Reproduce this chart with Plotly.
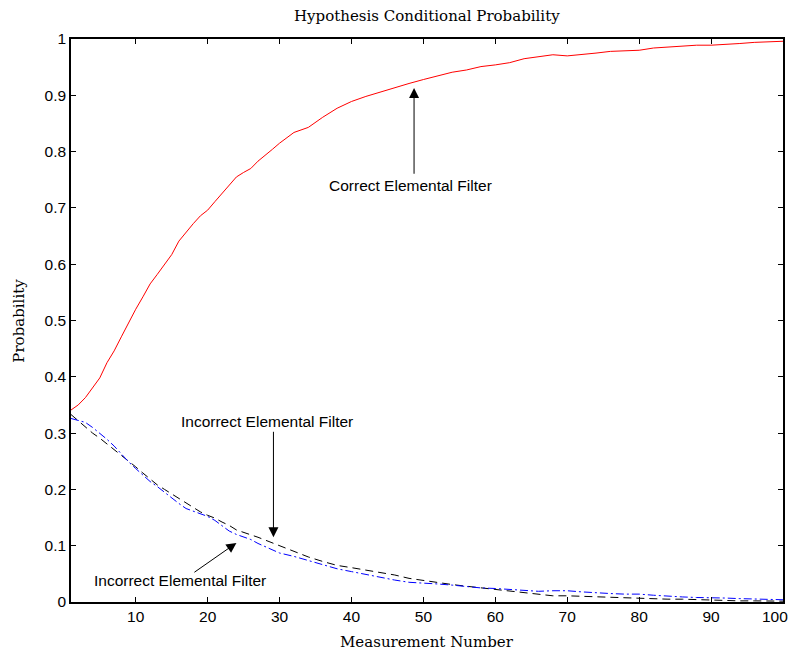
import plotly.graph_objects as go

measurement = [1,2,3,4,5,6,7,8,9,10,11,12,13,14,15,16,17,18,19,20,21,22,23,24,25,26,27,28,29,30,
               32,34,36,38,40,42,44,46,48,50,52,54,56,58,60,62,64,66,68,70,72,74,76,78,80,82,84,86,88,90,
               92,94,96,98,100]

correct_prob = [0.341,0.350,0.363,0.380,0.398,0.425,0.446,0.471,0.497,0.520,0.542,0.565,0.582,0.599,0.617,
                0.641,0.657,0.672,0.686,0.696,0.711,0.726,0.741,0.755,0.763,0.770,0.783,0.793,0.804,0.815,
                0.834,0.843,0.861,0.877,0.889,0.898,0.906,0.914,0.921,0.928,0.935,0.941,0.945,0.951,0.954,
                0.958,0.965,0.969,0.972,0.970,0.972,0.975,0.978,0.979,0.980,0.984,0.986,0.988,0.989,0.989,
                0.990,0.992,0.994,0.995,0.996]

incorrect_a = [0.333,0.322,0.310,0.300,0.291,0.281,0.271,0.261,0.250,0.240,0.229,0.219,0.208,0.200,0.192,
               0.184,0.176,0.168,0.160,0.154,0.149,0.142,0.136,0.128,0.124,0.120,0.115,0.110,0.105,0.100,
               0.090,0.080,0.072,0.065,0.061,0.057,0.053,0.048,0.042,0.038,0.034,0.031,0.028,0.025,0.023,
               0.020,0.017,0.014,0.011,0.011,0.010,0.009,0.008,0.007,0.007,0.006,0.005,0.005,0.004,0.003,
               0.002,0.002,0.002,0.002,0.0015]

incorrect_b = [0.326,0.323,0.319,0.310,0.300,0.289,0.277,0.263,0.249,0.237,0.225,0.214,0.205,0.195,0.184,
               0.175,0.166,0.161,0.156,0.152,0.145,0.136,0.126,0.120,0.116,0.111,0.104,0.098,0.092,0.087,
               0.081,0.074,0.066,0.059,0.054,0.049,0.043,0.039,0.035,0.034,0.032,0.030,0.027,0.025,0.024,
               0.022,0.020,0.019,0.020,0.020,0.018,0.016,0.015,0.014,0.014,0.012,0.010,0.009,0.008,0.008,
               0.007,0.006,0.005,0.004,0.004]

x_ticks = [10,20,30,40,50,60,70,80,90,100]
y_ticks = [0,0.1,0.2,0.3,0.4,0.5,0.6,0.7,0.8,0.9,1]
y_tick_labels = ["0","0.1","0.2","0.3","0.4","0.5","0.6","0.7","0.8","0.9","1"]

label_correct = "Correct Elemental Filter"
label_incorrect = "Incorrect Elemental Filter"

fig = go.Figure()
fig.add_trace(go.Scatter(x=measurement, y=correct_prob, mode="lines",
                         line=dict(color="#ff0000", width=1)))
fig.add_trace(go.Scatter(x=measurement, y=incorrect_a, mode="lines",
                         line=dict(color="#000000", width=1, dash="8px,5px")))
fig.add_trace(go.Scatter(x=measurement, y=incorrect_b, mode="lines",
                         line=dict(color="#0000ff", width=1, dash="8px,3px,2px,3px")))

sans = dict(family="Liberation Sans, Arial, sans-serif", size=15.5, color="black")
serif = dict(family="DejaVu Serif, Liberation Serif, serif", size=15, color="black")

PW, PH = 714, 563  # plot area size in px

annotations = [
    dict(x=48.7, y=0.913, ax=48.7, ay=0.758, xref="x", yref="y", axref="x", ayref="y",
         text="", showarrow=True, arrowhead=2, arrowsize=2, arrowwidth=1, arrowcolor="black"),
    dict(x=48.15, y=0.739, xref="x", yref="y", text=label_correct, showarrow=False, font=sans),
    dict(x=29.15, y=0.115, ax=29.15, ay=0.305, xref="x", yref="y", axref="x", ayref="y",
         text="", showarrow=True, arrowhead=2, arrowsize=2, arrowwidth=1, arrowcolor="black"),
    dict(x=28.3, y=0.3215, xref="x", yref="y", text=label_incorrect, showarrow=False, font=sans),
    dict(x=24.0, y=0.105, ax=17.95, ay=0.051, xref="x", yref="y", axref="x", ayref="y",
         text="", showarrow=True, arrowhead=2, arrowsize=2, arrowwidth=1, arrowcolor="black"),
    dict(x=16.1, y=0.039, xref="x", yref="y", text=label_incorrect, showarrow=False, font=sans),
    dict(x=0.5, y=-40/PH, xref="paper", yref="paper", text="Measurement Number",
         showarrow=False, font=serif, xanchor="center", yanchor="middle"),
    dict(x=-53/PW, y=0.5, xref="paper", yref="paper", text="Probability", textangle=-90,
         showarrow=False, font=serif, xanchor="center", yanchor="middle"),
    dict(x=0.5, y=1 + 23/PH, xref="paper", yref="paper", text="Hypothesis Conditional Probability",
         showarrow=False, font=serif, xanchor="center", yanchor="middle"),
    # last x tick label sits against the page edge (it is cut off in the reference)
    dict(x=1 + 7/PW, y=-14/PH, xref="paper", yref="paper", text=str(x_ticks[-1]),
         showarrow=False, font=sans, xanchor="right", yanchor="middle", xshift=0),
]

# page body has an 8px margin: figure is 784x644 placed at (8,8) so nothing overflows
fig.update_layout(
    width=784, height=644,
    margin=dict(l=63, r=7, t=31, b=50),
    paper_bgcolor="white", plot_bgcolor="white",
    showlegend=False,
    annotations=annotations,
)
fig.update_xaxes(range=[1, 100], tickvals=x_ticks, ticks="inside", ticklen=5, tickwidth=1,
                 tickcolor="black", showline=True, linecolor="black", linewidth=1.5, mirror="ticks",
                 showgrid=False, zeroline=False, tickfont=sans)
fig.update_yaxes(range=[0, 1], tickvals=y_ticks, ticktext=y_tick_labels, ticks="inside", ticklen=5,
                 tickwidth=1, tickcolor="black", showline=True, linecolor="black", linewidth=1.5,
                 mirror="ticks", showgrid=False, zeroline=False, tickfont=sans)

fig.write_html("out.html")
